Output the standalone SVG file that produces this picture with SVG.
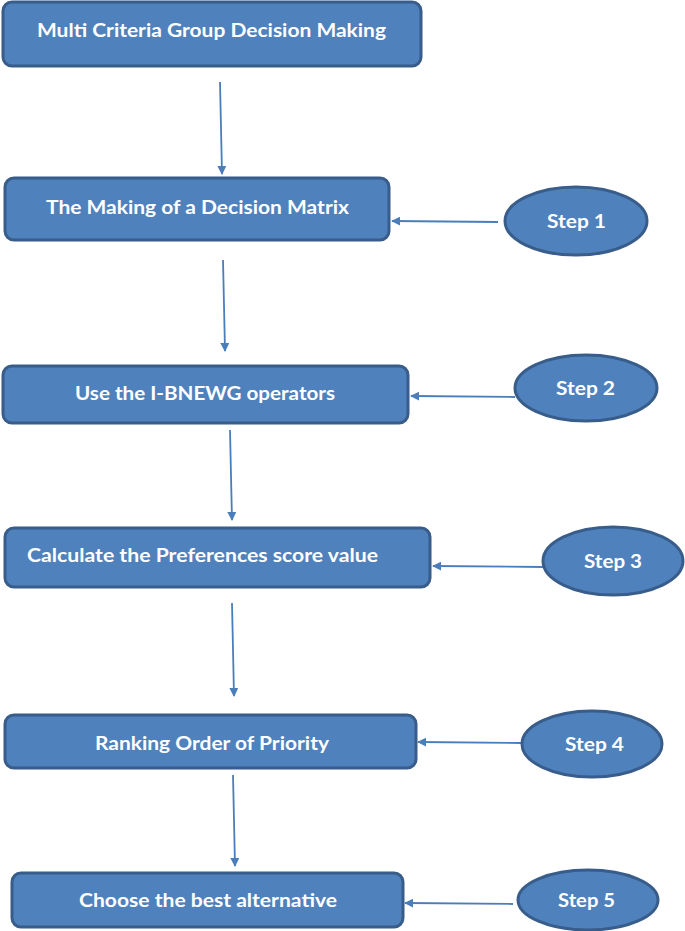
<svg xmlns="http://www.w3.org/2000/svg" width="685" height="931" viewBox="0 0 685 931">
<style>
.box{fill:#4F81BD;stroke:#385D8A;stroke-width:3}
.t{font-family:Lato,"Liberation Sans",sans-serif;font-weight:bold;font-size:19px;fill:#FFFFFF}
.c{stroke:#4A7EBB;stroke-width:1.8;fill:none;marker-end:url(#ah)}
</style>
<defs>
<marker id="ah" viewBox="0 0 10 10" refX="9" refY="5" markerWidth="9" markerHeight="9" orient="auto" markerUnits="userSpaceOnUse">
<path d="M0,0 L10,5 L0,10 z" fill="#4A7EBB"/>
</marker>
</defs>
<rect width="685" height="931" fill="#FFFFFF"/>
<g id="connectors">
<line class="c" x1="220" y1="82" x2="222" y2="174"/>
<line class="c" x1="223" y1="260" x2="225" y2="351"/>
<line class="c" x1="230" y1="430" x2="232" y2="520"/>
<line class="c" x1="232" y1="603" x2="234" y2="696"/>
<line class="c" x1="233" y1="775" x2="235" y2="866"/>
<line class="c" x1="498" y1="222" x2="392" y2="221"/>
<line class="c" x1="515" y1="397" x2="411" y2="396"/>
<line class="c" x1="543" y1="567" x2="433" y2="566"/>
<line class="c" x1="521" y1="743" x2="418" y2="742"/>
<line class="c" x1="513" y1="904" x2="405" y2="903"/>
</g>
<g id="n1"><rect class="box" x="3" y="2" width="418" height="64" rx="9"/><text class="t" x="37" y="37" textLength="349" lengthAdjust="spacingAndGlyphs">Multi Criteria Group Decision Making</text></g>
<g id="n2"><rect class="box" x="5" y="178" width="384" height="62" rx="9"/><text class="t" x="46" y="214" textLength="303" lengthAdjust="spacingAndGlyphs">The Making of a Decision Matrix</text></g>
<g id="n3"><rect class="box" x="3" y="366" width="405" height="57" rx="9"/><text class="t" x="75" y="400" textLength="260" lengthAdjust="spacingAndGlyphs">Use the I-BNEWG operators</text></g>
<g id="n4"><rect class="box" x="5" y="528" width="425" height="59" rx="9"/><text class="t" x="27" y="562" textLength="351" lengthAdjust="spacingAndGlyphs">Calculate the Preferences score value</text></g>
<g id="n5"><rect class="box" x="5" y="715" width="411" height="53" rx="9"/><text class="t" x="95" y="750" textLength="234" lengthAdjust="spacingAndGlyphs">Ranking Order of Priority</text></g>
<g id="n6"><rect class="box" x="12" y="873" width="391" height="54" rx="9"/><text class="t" x="79" y="907" textLength="258" lengthAdjust="spacingAndGlyphs">Choose the best alternative</text></g>
<g id="s1"><ellipse class="box" cx="576" cy="221" rx="71" ry="34"/><text class="t" x="547" y="228" textLength="59" lengthAdjust="spacingAndGlyphs">Step 1</text></g>
<g id="s2"><ellipse class="box" cx="586" cy="388" rx="71" ry="33"/><text class="t" x="556" y="395" textLength="59" lengthAdjust="spacingAndGlyphs">Step 2</text></g>
<g id="s3"><ellipse class="box" cx="613" cy="561" rx="70" ry="34"/><text class="t" x="584" y="568" textLength="58" lengthAdjust="spacingAndGlyphs">Step 3</text></g>
<g id="s4"><ellipse class="box" cx="592" cy="744" rx="70" ry="33"/><text class="t" x="565" y="751" textLength="59" lengthAdjust="spacingAndGlyphs">Step 4</text></g>
<g id="s5"><ellipse class="box" cx="588" cy="900" rx="70" ry="30"/><text class="t" x="558" y="907" textLength="57" lengthAdjust="spacingAndGlyphs">Step 5</text></g>
</svg>
